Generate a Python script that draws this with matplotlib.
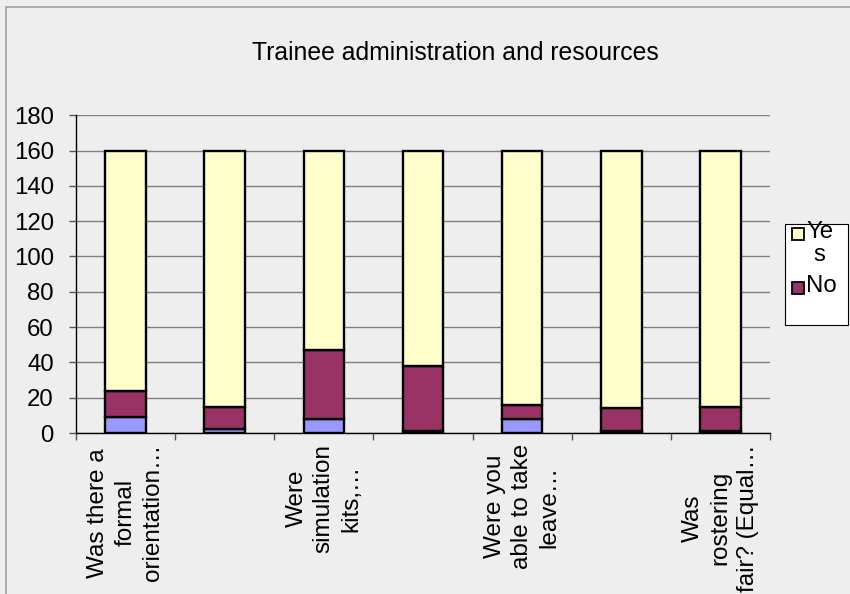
import numpy as np
import matplotlib.pyplot as plt
from matplotlib.patches import Rectangle

plt.rcParams['font.family'] = ['Liberation Sans', 'DejaVu Sans']

# Survey questions (only every second label is shown on the axis)
questions = ['Was there a\nformal\norientation…', '',
             'Were\nsimulation\nkits,…', '',
             'Were you\nable to take\nleave…', '',
             'Was\nrostering\nfair? (Equal…']

# Stacked response counts per question
other = [9, 2, 8, 1, 8, 1, 1]
no = [15, 13, 39, 37, 8, 13, 14]
yes = [136, 145, 113, 122, 144, 146, 145]

bg = '#eeeeee'
c_other = '#9999ff'
c_no = '#993366'
c_yes = '#ffffcc'

fig = plt.figure(figsize=(8.5, 5.94), dpi=100, facecolor=bg)
ax = fig.add_axes([0.0894, 0.271, 0.8165, 0.535], facecolor=bg)

x = np.arange(len(questions))
w = 0.41
kw = dict(width=w, edgecolor='black', linewidth=1.7, zorder=3)
other = np.array(other)
no = np.array(no)
yes = np.array(yes)
ax.bar(x, other, color=c_other, **kw)
ax.bar(x, no, bottom=other, color=c_no, **kw)
ax.bar(x, yes, bottom=other + no, color=c_yes, **kw)

ax.set_xlim(-0.5, len(questions) - 0.5)
ax.set_ylim(0, 180)
ax.set_yticks(np.arange(0, 181, 20))
ax.yaxis.grid(True, color='#808080', linewidth=1, zorder=0)

for s in ['top', 'right']:
    ax.spines[s].set_visible(False)
for s in ['left', 'bottom']:
    ax.spines[s].set_color('black')
    ax.spines[s].set_linewidth(1)

ax.tick_params(axis='y', length=5, width=1, color='#555555', pad=11, labelsize=17.3)
ax.set_xticks(x)
ax.set_xticklabels(questions, rotation=90, ha='center', va='top',
                   multialignment='center', fontsize=17.5, linespacing=1.3)
ax.set_xticks(np.arange(-0.5, len(questions), 1), minor=True)
ax.tick_params(axis='x', which='major', length=0, pad=8)
ax.tick_params(axis='x', which='minor', length=5, width=1, color='#555555')

fig.text(455 / 850, 1 - 53 / 594, 'Trainee administration and resources',
         ha='center', va='center', fontsize=17.8)

# outer chart frame
fig.patches.append(Rectangle((6 / 850, -0.01), 1.0, 1 - 7 / 594 + 0.01,
                             transform=fig.transFigure, fill=False,
                             edgecolor='#a0a0a0', linewidth=1.2))

# legend box
W, H = 850, 594
fig.patches.append(Rectangle((785 / W, 1 - 325 / H), 63 / W, 101 / H,
                             transform=fig.transFigure, facecolor='white',
                             edgecolor='black', linewidth=0.8))
for top, col, lab in [(228, c_yes, 'Ye\ns'), (282, c_no, 'No')]:
    fig.patches.append(Rectangle((792 / W, 1 - (top + 12) / H), 12 / W, 12 / H,
                                 transform=fig.transFigure, facecolor=col,
                                 edgecolor='black', linewidth=1.3))
    fig.text(806 / W, 1 - (top - 7) / H, lab, ha='left', va='top',
             fontsize=17.3, linespacing=1.05, multialignment='center')

fig.savefig('out.png', dpi=100, facecolor=bg)
